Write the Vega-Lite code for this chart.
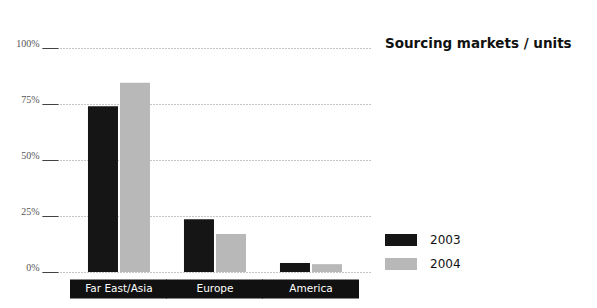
{
"$schema": "https://vega.github.io/schema/vega-lite/v6.json",
"width": 330, "height": 224,
"autosize": {"type": "none"},
"padding": {"left": 42, "top": 48, "right": 225, "bottom": 36},
"background": "white",
"title": {"text": "Sourcing markets / units", "anchor": "start", "frame": "group", "dx": 343, "offset": -12, "fontSize": 13.5, "font": "DejaVu Sans", "fontWeight": "bold", "color": "#111"},
"data": {"values": [
 {"market": "Far East/Asia", "year": "2003", "share": 74},
 {"market": "Far East/Asia", "year": "2004", "share": 84.5},
 {"market": "Europe", "year": "2003", "share": 23.5},
 {"market": "Europe", "year": "2004", "share": 17},
 {"market": "America", "year": "2003", "share": 4},
 {"market": "America", "year": "2004", "share": 3.5}
]},
"mark": {"type": "bar"},
"encoding": {
 "x": {"field": "market", "type": "nominal", "sort": ["Far East/Asia", "Europe", "America"],
   "scale": {"paddingInner": 0, "paddingOuter": 0.21875, "align": 0.69},
   "axis": {"title": null, "labelAngle": 0, "domain": false, "grid": false, "ticks": true, "tickSize": 19, "tickWidth": 97, "tickColor": "#111", "offset": 7, "labelColor": "white", "labelFont": "DejaVu Sans", "labelFontSize": 10.5, "labelPadding": -10, "labelBaseline": "middle"}},
 "xOffset": {"field": "year", "type": "nominal", "scale": {"paddingInner": 0.0625, "paddingOuter": 0.53125}},
 "y": {"field": "share", "type": "quantitative", "scale": {"domain": [0, 100]},
   "axis": {"title": null, "values": [0, 25, 50, 75, 100], "labelExpr": "datum.value + '%'", "domain": false, "grid": true, "gridDash": [1, 2], "gridColor": "#888", "tickSize": -16, "tickColor": "#444", "labelPadding": 19, "labelBaseline": "bottom", "labelFont": "Liberation Serif", "labelFontSize": 10, "labelColor": "#555"}},
 "color": {"field": "year", "type": "nominal", "scale": {"range": ["#151515", "#b8b8b8"]},
   "legend": {"title": null, "orient": "none", "legendX": 351, "legendY": 184, "symbolType": "M-2,-0.75H2V0.75H-2Z", "symbolSize": 256, "symbolStrokeWidth": 0, "symbolOpacity": 1, "labelFont": "DejaVu Sans", "labelFontSize": 12, "labelColor": "#111", "rowPadding": 10, "labelOffset": 21}}
},
"config": {"view": {"stroke": null}}
}
